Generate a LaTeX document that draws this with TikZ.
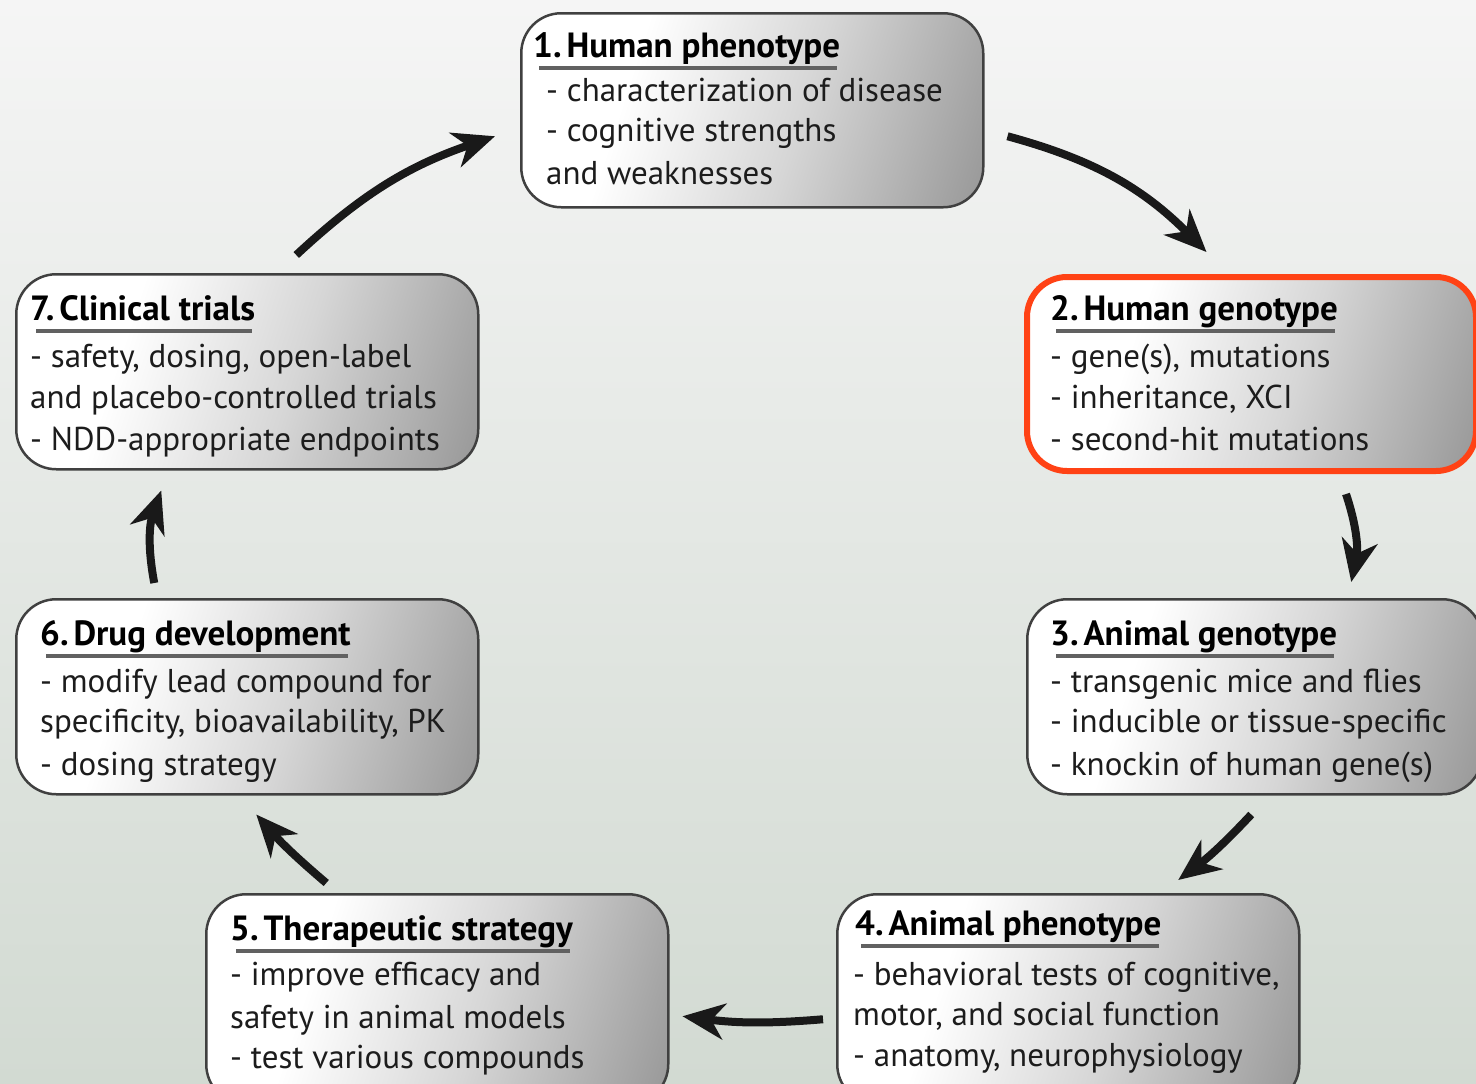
\documentclass[tikz,border=0pt]{standalone}
\usepackage{fontspec}
\setmainfont{PT Sans}
\usetikzlibrary{arrows.meta,calc}
\definecolor{bgtop}{HTML}{F5F5F5}
\definecolor{bgbot}{HTML}{D2DAD2}
\definecolor{boxgray}{HTML}{6A6A6A}
\definecolor{boxmid}{HTML}{D6D6D6}
\definecolor{hl}{HTML}{FF4215}
\definecolor{txt}{HTML}{1C1C1C}
\pgfdeclarehorizontalshading{boxsh}{100bp}{color(0bp)=(white); color(34bp)=(white); color(56bp)=(boxmid); color(100bp)=(boxgray)}
\newcommand{\nsp}{\hspace{0.14em}}
\begin{document}
\begin{tikzpicture}[x=1pt,y=-1pt,
 box/.style={draw=black!75, line width=2.5pt, rounded corners=40pt, shading=boxsh, shading angle=-18, inner sep=0pt, anchor=north west},
 ttl/.style={inner sep=0pt, anchor=base west, font=\fontsize{35}{40}\selectfont\bfseries, text=black},
 bl/.style={inner sep=0pt, anchor=base west, font=\fontsize{33}{38}\selectfont, text=txt},
 ul/.style={draw=black!62, line width=3.2pt},
 arr/.style={line width=8pt, -{Stealth[length=42pt,width=36pt,inset=13pt]}, draw=black!90}]
\useasboundingbox (0,0) rectangle (1476,1084);
\shade[top color=bgtop, bottom color=bgbot] (0,0) rectangle (1476,1084);

% boxes
\node[box, minimum width=462pt, minimum height=194pt] (b1) at (520,12) {};
\node[box, draw=hl, line width=6pt, minimum width=449pt, minimum height=194pt] (b2) at (1024,274) {};
\node[box, minimum width=455pt, minimum height=195pt] (b3) at (1026,598) {};
\node[box, minimum width=462pt, minimum height=210pt] (b4) at (836,893) {};
\node[box, minimum width=462pt, minimum height=210pt] (b5) at (205,893) {};
\node[box, minimum width=462pt, minimum height=195pt] (b6) at (15,598) {};
\node[box, minimum width=462pt, minimum height=195pt] (b7) at (15,273) {};

% box 1
\node[ttl] (t1) at (533,57) {1.\nsp Human phenotype};
\node[bl] (l1a) at (546,101) {- characterization of disease};
\node[bl] (l1b) at (546,141) {- cognitive strengths};
\node[bl] (l1c) at (546,184) {and weaknesses};
% box 2
\node[ttl] (t2) at (1050,320) {2.\nsp Human genotype};
\node[bl] (l2a) at (1050,367) {- gene(s), mutations};
\node[bl] (l2b) at (1050,408) {- inheritance, XCI};
\node[bl] (l2c) at (1050,450) {- second-hit mutations};
% box 3
\node[ttl] (t3) at (1050,645) {3.\nsp Animal genotype};
\node[bl] (l3a) at (1050,692) {- transgenic mice and flies};
\node[bl] (l3b) at (1050,732) {- inducible or tissue-specific};
\node[bl] (l3c) at (1050,775) {- knockin of human gene(s)};
% box 4
\node[ttl] (t4) at (855,935) {4.\nsp Animal phenotype};
\node[bl] (l4a) at (853,985) {- behavioral tests of cognitive,};
\node[bl] (l4b) at (853,1025) {motor, and social function};
\node[bl] (l4c) at (853,1066) {- anatomy, neurophysiology};
% box 5
\node[ttl] (t5) at (230,940) {5.\nsp Therapeutic strategy};
\node[bl] (l5a) at (230,985) {- improve efficacy and};
\node[bl] (l5b) at (230,1028) {safety in animal models};
\node[bl] (l5c) at (230,1068) {- test various compounds};
% box 6
\node[ttl] (t6) at (40,645) {6.\nsp Drug development};
\node[bl] (l6a) at (40,692) {- modify lead compound for};
\node[bl] (l6b) at (40,732) {specificity, bioavailability, PK};
\node[bl] (l6c) at (40,775) {- dosing strategy};
% box 7
\node[ttl] (t7) at (30,320) {7.\nsp Clinical trials};
\node[bl] (l7a) at (30,367) {- safety, dosing, open-label};
\node[bl] (l7b) at (30,408) {and placebo-controlled trials};
\node[bl] (l7c) at (30,450) {- NDD-appropriate endpoints};

% underlines
\foreach \t in {t1,t2,t3,t4,t5,t6,t7}
  \draw[ul] ($(\t.base west)+(6,11)$) -- ($(\t.base east)+(-3,11)$);

% arrows
\draw[arr] ($(b1.east)+(23,26)$) to[bend left=15] ($(b2.north)+(-45,-22)$);
\draw[arr] ($(b2.south)+(94.5,20)$) to[bend left=15] ($(b3.north)+(96.5,-16)$);
\draw[arr] ($(b3.south)+(-3.5,19)$) to[bend left=5] ($(b4.north)+(110,-13)$);
\draw[arr] ($(b4.west)+(-13,20)$) to[bend left=6] ($(b5.east)+(13,17)$);
\draw[arr] ($(b5.north)+(-111,-10)$) to[bend left=4] ($(b6.south)+(9,19)$);
\draw[arr] ($(b6.north)+(-93,-15)$) to[bend left=15] ($(b7.south)+(-86,20)$);
\draw[arr] ($(b7.north)+(49,-18)$) to[bend left=12] ($(b1.west)+(-25,26)$);
\end{tikzpicture}
\end{document}
